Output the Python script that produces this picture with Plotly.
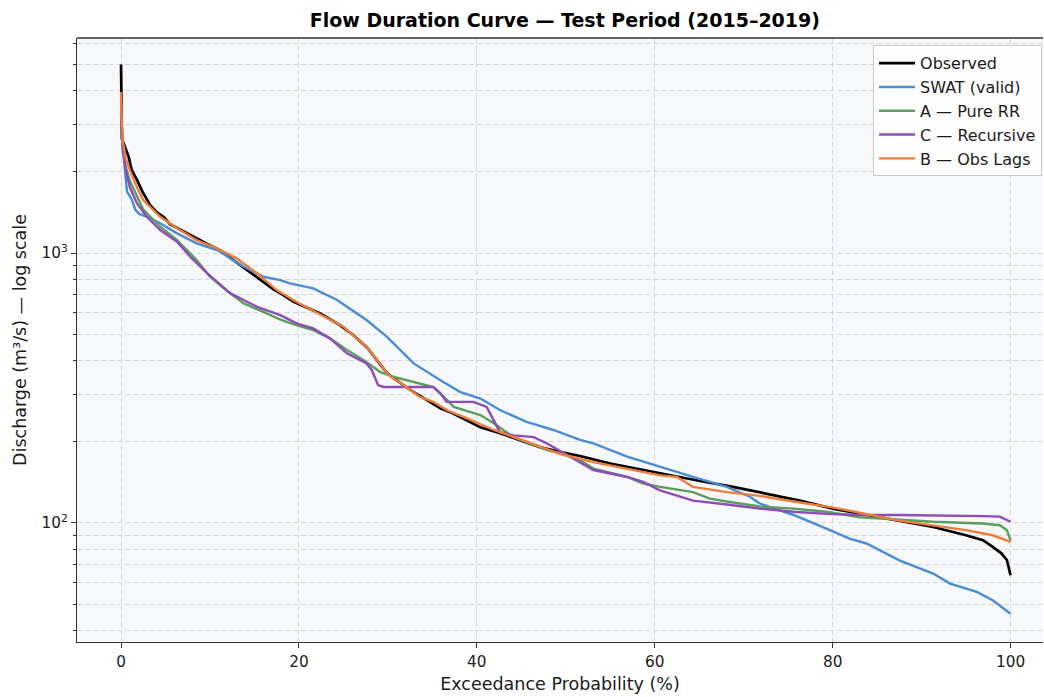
import plotly.graph_objects as go

# ---------------- data ----------------
obs_p = [0, 0.02, 0.05, 0.1, 0.3, 0.86, 1.2, 1.8, 2.36, 3.3, 4.0, 4.8, 5.5, 6.7, 8.2, 9.7,
         11.2, 12.7, 14.2, 15.7, 17.1, 18.2, 19.4, 20.1, 22.4, 24.6, 26.1, 27.7, 28.8, 29.9,
         31.4, 32.9, 34.4, 35.9, 37.3, 38.9, 40.4, 42.6, 44.9, 47.1, 49.4, 51.6, 55.0, 58.7,
         62.5, 65.1, 68.8, 72.6, 76.3, 80.0, 83.8, 87.5, 91.3, 95.0, 96.9, 98.0, 99.0, 99.6, 100]
obs_q = [5000, 3800, 3000, 2650, 2550, 2270, 2030, 1868, 1700, 1500, 1418, 1360, 1280, 1219,
         1140, 1080, 1020, 940, 865, 794, 735, 700, 660, 645, 597, 541, 497, 445, 401, 359,
         330, 305, 285, 266, 255, 240, 226, 215, 203, 191, 183, 177, 166, 157,
         148, 143, 136, 128, 121, 113, 107, 102, 96.6, 90, 86.3, 81.5, 77, 72.7, 64]

swat_p = [0, 0.05, 0.15, 0.3, 0.48, 0.67, 1.2, 1.6, 2.0, 2.9, 4.4, 6.3, 8.5, 10.8, 13.8, 16.0,
          17.9, 19.0, 21.6, 24.3, 25.4, 27.6, 29.9, 32.9, 35.9, 38.1, 40.4, 42.6, 45.6, 48.6,
          51.6, 53.1, 56.9, 60.6, 64.3, 68.1, 70.7, 71.8, 75.6, 79.3, 81.9, 83.8, 87.5, 91.3,
          93.2, 96.2, 98.0, 100]
swat_q = [3340, 2800, 2500, 2275, 1900, 1688, 1580, 1450, 1400, 1363, 1289, 1183, 1086, 1026,
          890, 817, 794, 772, 740, 670, 632, 565, 489, 390, 338, 306, 289, 262, 237, 221,
          203, 197, 176, 161, 148, 136, 125, 118, 107, 95.3, 87.5, 83.9, 72.7, 64.9,
          59.6, 55.5, 51.7, 46.1]

a_p = [0, 0.05, 0.2, 0.5, 1.0, 1.8, 2.5, 4.4, 6.3, 8.5, 10.0, 12.0, 13.8, 16.0, 18.0, 19.8,
       21.6, 23.5, 25.4, 27.3, 29.1, 30.6, 32.9, 35.1, 36.3, 37.4, 40.4, 41.9, 44.1, 47.9,
       49.4, 51.6, 53.1, 56.9, 58.7, 60.6, 64.3, 66.2, 68.1, 71.8, 75.6, 79.3, 83.1, 87.5,
       91.3, 96.9, 98.8, 99.6, 100]
a_q = [3600, 3000, 2500, 2100, 1850, 1618, 1450, 1252, 1117, 942, 817, 720, 651, 605, 565, 540,
       518, 483, 437, 401, 363, 348, 333, 319, 293, 269, 251, 234, 208, 186,
       181, 171, 159, 148, 140, 136, 130, 123, 120, 115, 113, 110, 105, 103,
       101, 99.5, 98, 94, 86]

c_p = [0, 0.05, 0.2, 0.5, 1.0, 1.8, 2.9, 4.4, 6.3, 7.8, 9.7, 12.3, 15.3, 17.9, 19.8, 21.6,
       23.5, 25.4, 27.6, 28.2, 28.9, 29.5, 32.9, 35.1, 35.9, 36.6, 39.6, 41.1, 41.9, 42.6,
       44.1, 46.4, 47.9, 49.8, 51.6, 53.1, 56.9, 58.7, 60.6, 64.3, 68.1, 71.8, 75.6, 79.3,
       83.1, 87.5, 96.9, 98.8, 100]
c_q = [3300, 2900, 2450, 2050, 1750, 1528, 1363, 1217, 1101, 968, 841, 709, 632, 589, 548, 526,
       483, 425, 390, 368, 324, 319, 319, 319, 302, 281, 281, 269, 240, 217,
       211, 208, 197, 181, 168, 157, 148, 142, 132, 121, 117, 113, 110, 108,
       107, 107, 106, 105.5, 101]

b_p = [0, 0.05, 0.2, 0.5, 1.0, 1.8, 2.5, 4.4, 6.3, 8.5, 10.8, 13.0, 15.3, 17.5, 19.7, 22.0,
       25.0, 27.6, 29.1, 29.9, 30.6, 32.1, 33.6, 35.1, 36.6, 38.9, 41.9, 45.6, 49.4, 53.1,
       56.9, 60.6, 62.5, 64.3, 68.1, 71.8, 75.6, 80.1, 87.5, 95.0, 98.0, 100]
b_q = [3950, 3200, 2600, 2250, 2029, 1750, 1572, 1363, 1235, 1117, 1041, 956, 841, 729, 660, 600,
       533, 449, 390, 358, 343, 319, 293, 281, 262, 244, 221, 200, 180, 168,
       159, 150, 148, 136, 130, 126, 120, 114, 102, 94, 90, 85]

series_names = ["Observed", "SWAT (valid)", "A \u2014 Pure RR", "C \u2014 Recursive", "B \u2014 Obs Lags"]
x_ticks = [0, 20, 40, 60, 80, 100]
y_major = [100, 1000]
y_major_text = ["10<sup>2</sup>", "10<sup>3</sup>"]
y_minor = [40, 50, 60, 70, 80, 90, 200, 300, 400, 500, 600, 700, 800, 900,
           2000, 3000, 4000, 5000, 6000]

# ---------------- styling ----------------
colors = ["#000000", "#4A8CD6", "#5A9E5C", "#8E4CB8", "#EE7D3B"]
widths = [2.7, 2.4, 2.4, 2.4, 2.4]
FONT = "DejaVu Sans"
GRID = "#d6d8dc"

fig = go.Figure()
data = [(obs_p, obs_q), (swat_p, swat_q), (a_p, a_q), (c_p, c_q), (b_p, b_q)]
for i, ((px, qy), name) in enumerate(zip(data, series_names)):
    fig.add_trace(go.Scatter(x=px, y=qy, mode="lines", name=name,
                             legendgroup=f"g{i}",
                             line=dict(color=colors[i], width=widths[i])))

fig.update_layout(
    width=1044, height=697,
    margin=dict(l=77, r=1, t=38, b=55),
    paper_bgcolor="white",
    plot_bgcolor="#f7f8fa",
    font=dict(family=FONT, color="#1a1a1a", size=15),
    title=dict(text="<b>Flow Duration Curve \u2014 Test Period (2015\u20132019)</b>",
               font=dict(family=FONT, size=19, color="black"),
               x=0.505, xref="paper", xanchor="center",
               y=1 - 20 / 697, yref="container", yanchor="middle"),
    showlegend=True,
    legend=dict(x=0.999, xanchor="right", y=0.988, yanchor="top",
                bgcolor="rgba(255,255,255,0.85)", bordercolor="#cccccc", borderwidth=1,
                font=dict(family=FONT, size=16, color="#1a1a1a"),
                tracegroupgap=0, itemwidth=36),
)

fig.update_xaxes(
    range=[-4.95, 103.65], tickmode="array", tickvals=x_ticks,
    ticks="outside", ticklen=5, tickwidth=1.1, tickcolor="#333333",
    showline=True, linecolor="#333333", linewidth=1.3, mirror=False,
    showgrid=True, gridcolor=GRID, griddash="5px,3px", gridwidth=1,
    zeroline=False, tickfont=dict(size=15.3),
    title=dict(text="Exceedance Probability (%)", font=dict(size=17.5), standoff=8),
)
fig.update_yaxes(
    type="log", range=[1.5587, 3.797],
    tickmode="array", tickvals=y_major, ticktext=y_major_text,
    ticks="outside", ticklen=5, tickwidth=1.1, tickcolor="#333333",
    showline=True, linecolor="#333333", linewidth=1.3, mirror=False,
    showgrid=True, gridcolor=GRID, griddash="5px,3px", gridwidth=1,
    zeroline=False, tickfont=dict(size=15.3),
    minor=dict(tickmode="array", tickvals=y_minor, ticks="outside", ticklen=3,
               tickwidth=1, tickcolor="#333333",
               showgrid=True, gridcolor=GRID, griddash="5px,3px", gridwidth=1),
    title=dict(text="Discharge (m\u00b3/s) \u2014 log scale", font=dict(size=17.5), standoff=10),
)

# top spine (right spine lies outside the picture in the reference)
fig.add_shape(type="line", xref="paper", yref="paper", x0=0, x1=1, y0=1, y1=1,
              line=dict(color="#333333", width=1.3))

fig.write_html("out.html")
